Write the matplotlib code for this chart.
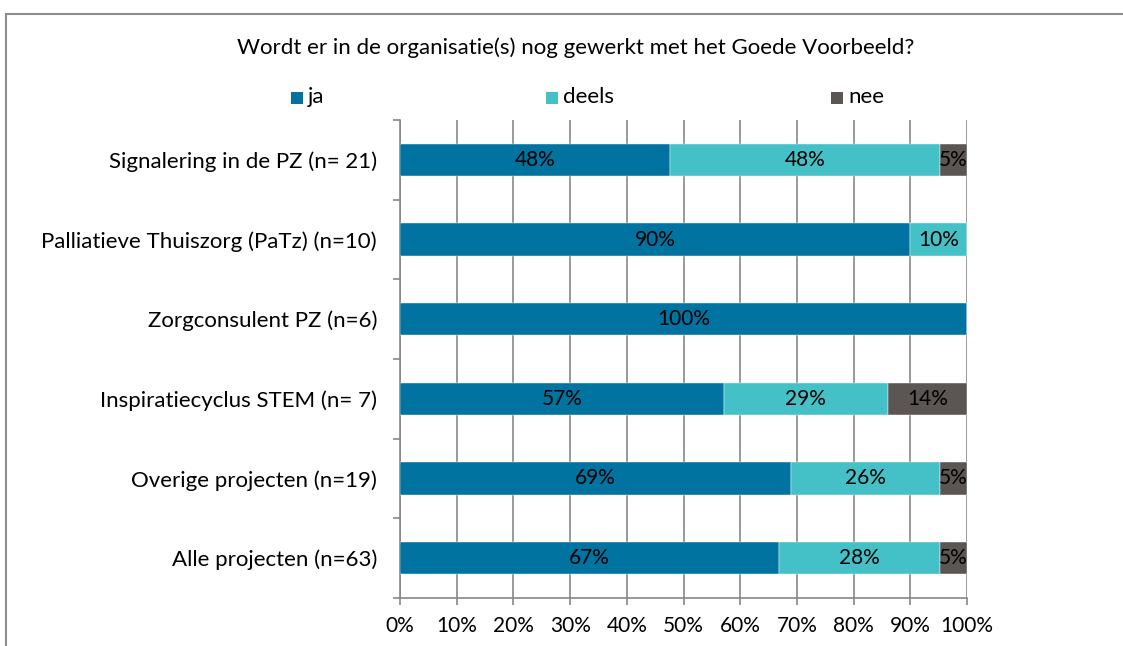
import matplotlib
matplotlib.use("Agg")
import matplotlib.pyplot as plt
from matplotlib.patches import Rectangle
import numpy as np

categories = ["Signalering in de PZ (n= 21)", "Palliatieve Thuiszorg (PaTz) (n=10)",
              "Zorgconsulent PZ (n=6)", "Inspiratiecyclus STEM (n= 7)",
              "Overige projecten (n=19)", "Alle projecten (n=63)"]
ja = [47.6, 90.0, 100.0, 57.1, 68.9, 66.9]
deels = [47.6, 10.0, 0.0, 28.9, 26.3, 28.3]
nee = [4.8, 0.0, 0.0, 14.0, 4.8, 4.8]
ja_lbl = ["48%", "90%", "100%", "57%", "69%", "67%"]
deels_lbl = ["48%", "10%", "", "29%", "26%", "28%"]
nee_lbl = ["5%", "", "", "14%", "5%", "5%"]
series_names = ["ja", "deels", "nee"]
colors = ["#0073A0", "#43C1C6", "#5B5654"]
title = "Wordt er in de organisatie(s) nog gewerkt met het Goede Voorbeeld?"

plt.rcParams['font.family'] = ['Lato', 'DejaVu Sans']
W, H = 1123, 646
fig = plt.figure(figsize=(W/100, H/100), dpi=100)
ax = fig.add_axes([400/W, 1-598/H, 567/W, 478/H])

n = len(categories)
y = np.arange(n)
left = np.zeros(n)
fs_txt = 16
fs_num = 15
for vals, lbls, c, name in zip([ja, deels, nee], [ja_lbl, deels_lbl, nee_lbl], colors, series_names):
    vals = np.array(vals)
    ax.barh(y, vals, left=left, height=0.41, color=c, label=name,
            edgecolor='white', linewidth=0.3, zorder=3)
    for yi, (v, l, lab) in enumerate(zip(vals, left, lbls)):
        if lab:
            ax.text(l + v/2, yi, lab, ha='center', va='center', fontsize=fs_num, color='black', zorder=4)
    left += vals

ax.set_xlim(0, 100)
ax.set_ylim(n - 0.5, -0.5)
ax.set_xticks(np.arange(0, 101, 10))
ax.set_xticklabels([f"{v}%" for v in range(0, 101, 10)], fontsize=fs_num)
ax.set_yticks(y)
ax.set_yticklabels(categories, fontsize=fs_txt)
ax.tick_params(axis='y', length=0, pad=16.5)
ax.tick_params(axis='x', length=5, color='#878787', width=1.2, pad=8)
ax.set_yticks(np.arange(-0.5, n, 1), minor=True)
ax.tick_params(axis='y', which='minor', length=5, color='#878787', width=1.2)
ax.grid(axis='x', color='#878787', linewidth=1.2, zorder=0)
for s in ['top', 'right']:
    ax.spines[s].set_visible(False)
for s in ['left', 'bottom']:
    ax.spines[s].set_color('#878787')
    ax.spines[s].set_linewidth(1.2)

fig.text(576/W, 1-48/H, title, ha='center', va='center', fontsize=fs_txt)
leg_x = [297, 552, 837]
for hx, lab, c in zip(leg_x, series_names, colors):
    fig.patches.append(Rectangle(((hx-6)/W, 1-103.5/H), 12/W, 12/H, transform=fig.transFigure,
                                 facecolor=c, edgecolor='none'))
    fig.text((hx+11)/W, 1-97/H, lab, ha='left', va='center', fontsize=fs_txt)

fig.patches.append(Rectangle((6/W, -0.1), 1.2, 1-14/H+0.1, transform=fig.transFigure,
                             facecolor='none', edgecolor='#8C8C8C', linewidth=1.5))
fig.savefig("out.png", dpi=100)
